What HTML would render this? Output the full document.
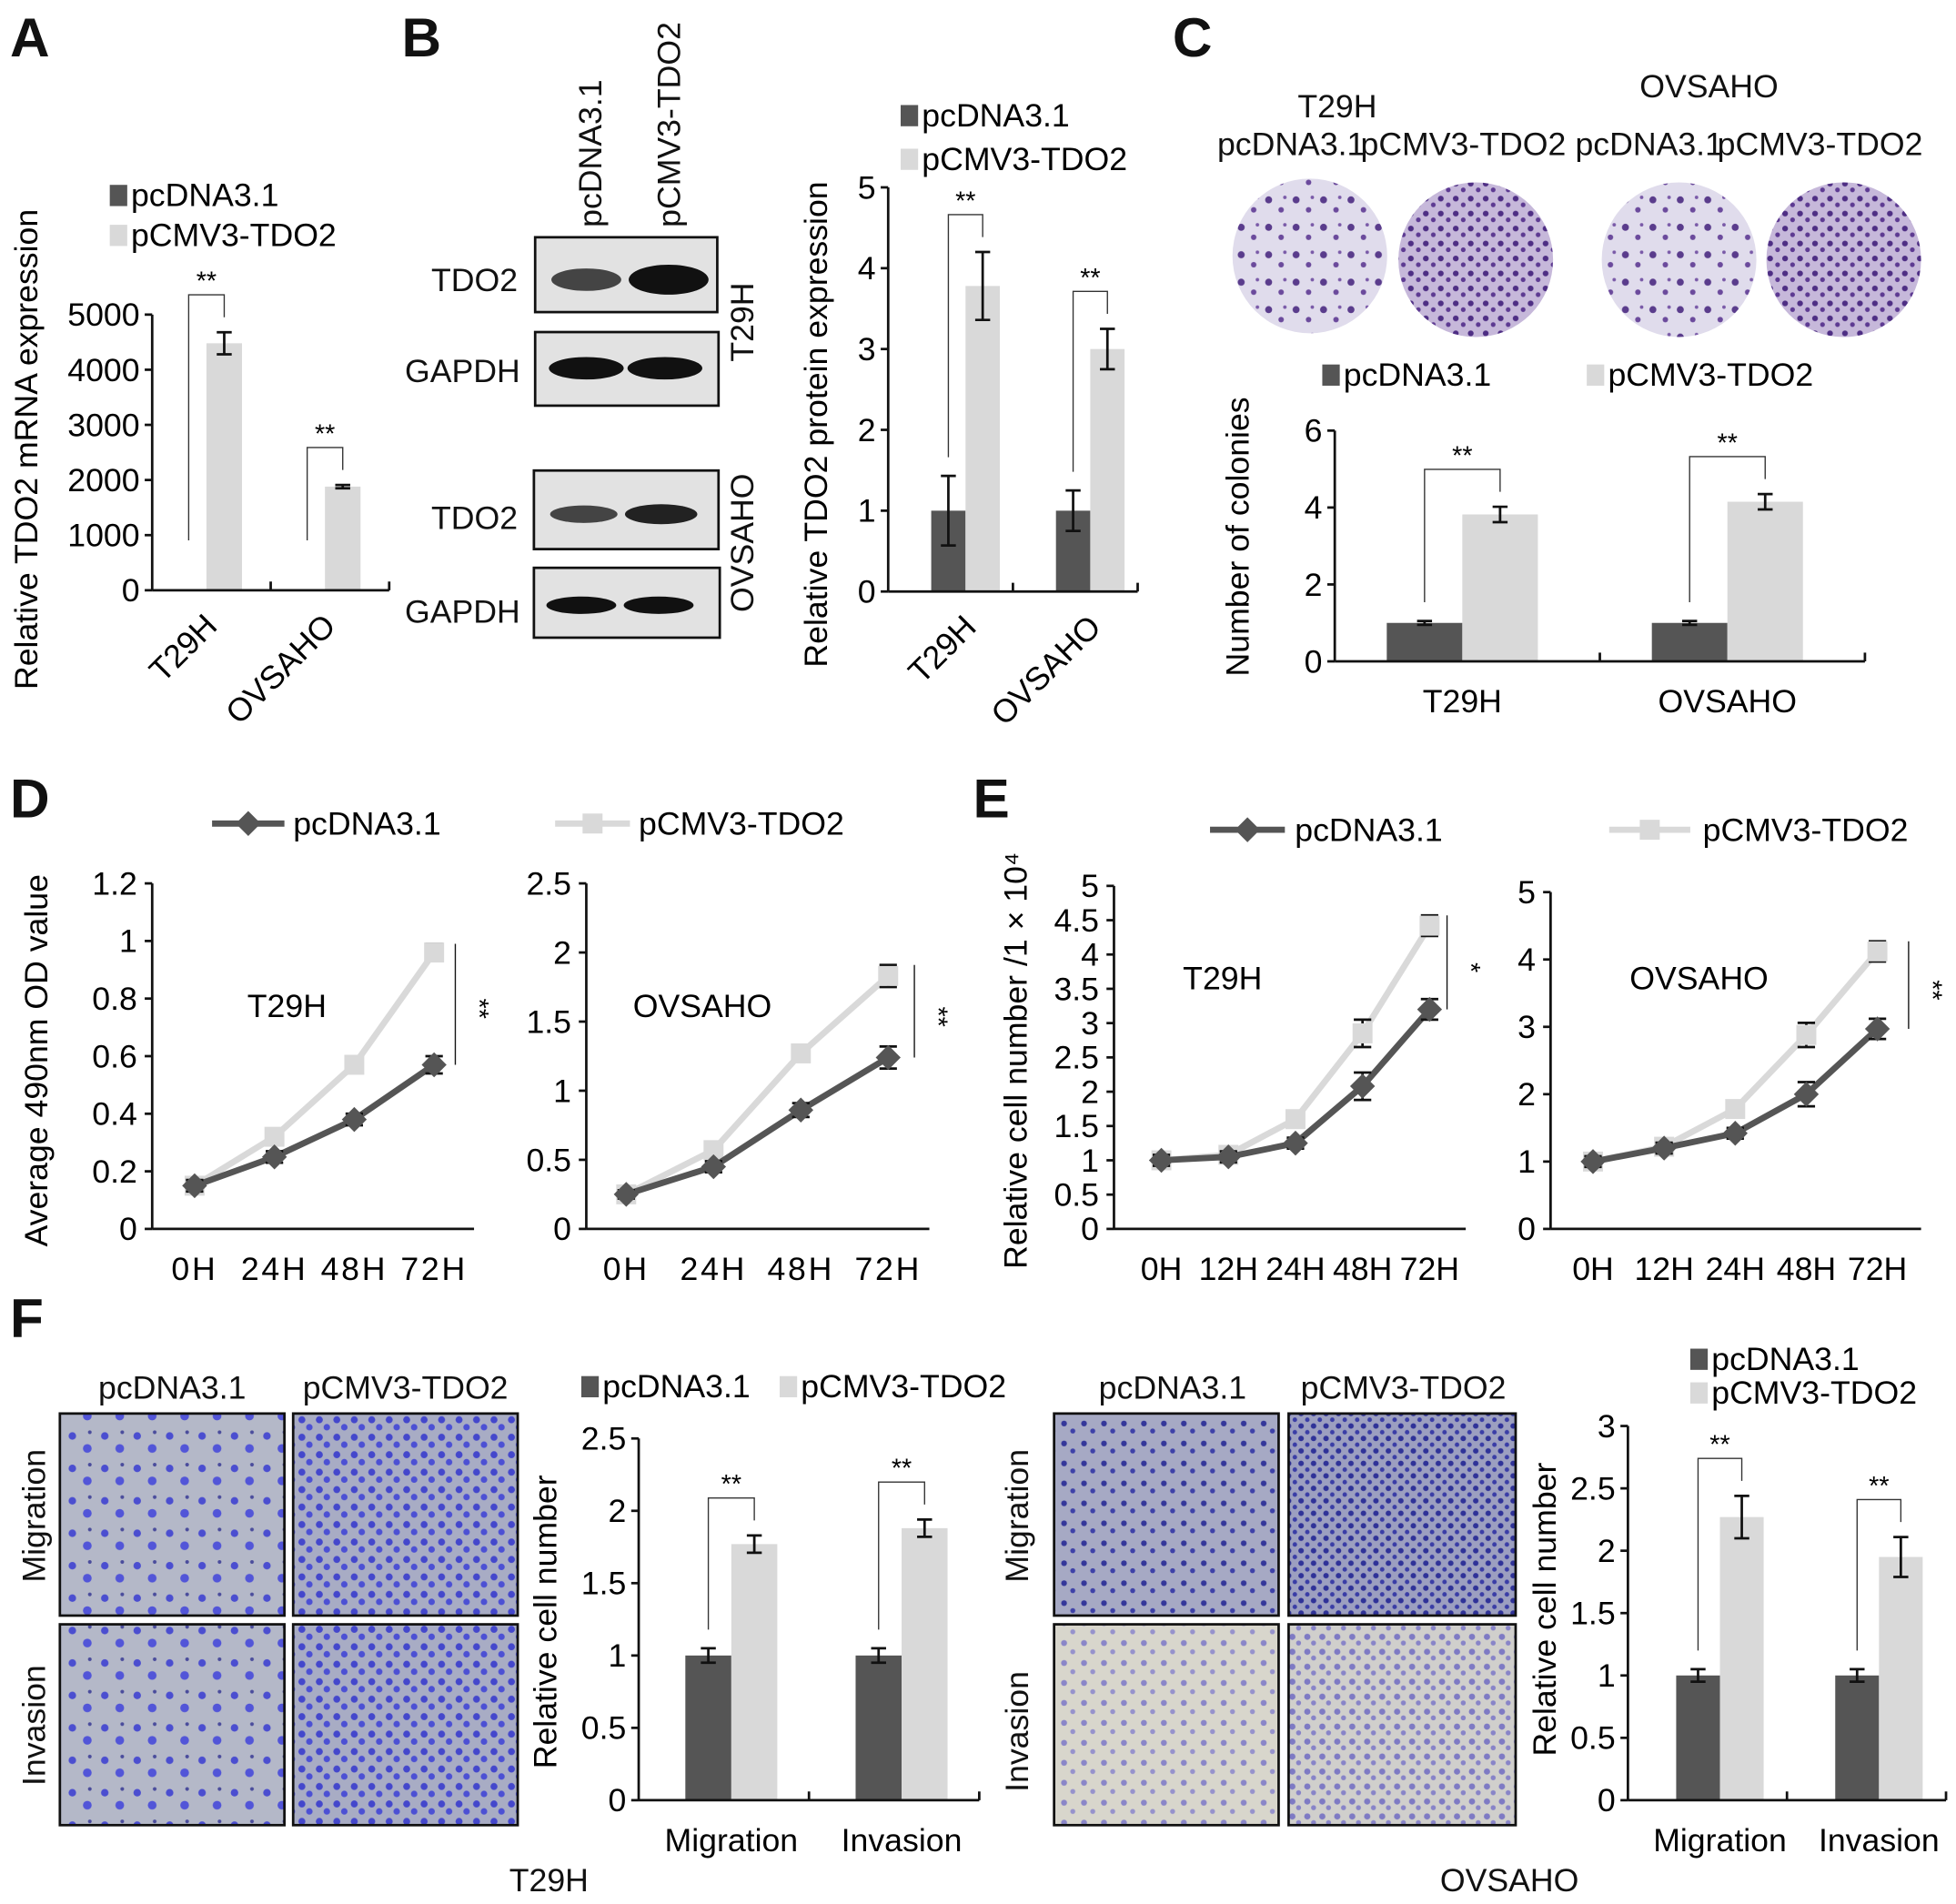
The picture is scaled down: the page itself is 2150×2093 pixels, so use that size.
<!DOCTYPE html>
<html><head><meta charset="utf-8"><style>
html,body{margin:0;padding:0;background:#fff;}
svg{display:block;font-family:"Liberation Sans",Arial,sans-serif;}
</style></head><body>
<svg id="fig" width="2150" height="2093" viewBox="0 0 1568 1526" xmlns="http://www.w3.org/2000/svg">
<defs>
<pattern id="colony" width="22" height="22" patternUnits="userSpaceOnUse">
<rect width="22" height="22" fill="#e0dcec"/><circle cx="5" cy="6" r="2.8" fill="#5a3c8c"/><circle cx="15" cy="14" r="2.2" fill="#6b4a9c"/><circle cx="18" cy="4" r="1.4" fill="#7a5aa8"/>
</pattern>
<pattern id="colony2" width="12" height="12" patternUnits="userSpaceOnUse">
<rect width="12" height="12" fill="#c6b8da"/><circle cx="3" cy="3" r="2.3" fill="#4e2e84"/><circle cx="9" cy="8" r="1.9" fill="#5d3a92"/>
</pattern>
<pattern id="trans1" width="26" height="26" patternUnits="userSpaceOnUse">
<rect width="26" height="26" fill="#b4b8c8"/><circle cx="6" cy="7" r="3" fill="#4b4ed0"/><circle cx="18" cy="17" r="3.5" fill="#5255d8"/><circle cx="20" cy="4" r="1.5" fill="#4a4c9c"/>
</pattern>
<pattern id="trans2" width="14" height="14" patternUnits="userSpaceOnUse">
<rect width="14" height="14" fill="#a8acc4"/><circle cx="4" cy="4" r="2.8" fill="#4447cc"/><circle cx="10" cy="10" r="2.6" fill="#4c50d4"/>
</pattern>
<pattern id="trans3" width="16" height="16" patternUnits="userSpaceOnUse">
<rect width="16" height="16" fill="#a6a9c4"/><circle cx="5" cy="5" r="2.3" fill="#34379a"/><circle cx="12" cy="11" r="2" fill="#3e41a8"/>
</pattern>
<pattern id="trans4" width="10" height="10" patternUnits="userSpaceOnUse">
<rect width="10" height="10" fill="#9c9fc0"/><circle cx="3" cy="3" r="2.2" fill="#2f3298"/><circle cx="8" cy="8" r="1.8" fill="#3a3da6"/>
</pattern>
<pattern id="trans5" width="16" height="16" patternUnits="userSpaceOnUse">
<rect width="16" height="16" fill="#d8d6cc"/><circle cx="5" cy="5" r="2.4" fill="#8a86c8"/><circle cx="12" cy="12" r="2" fill="#9692cc"/>
</pattern>
<pattern id="trans6" width="12" height="12" patternUnits="userSpaceOnUse">
<rect width="12" height="12" fill="#d0cfcc"/><circle cx="4" cy="4" r="2.5" fill="#7e7ac4"/><circle cx="9" cy="9" r="2" fill="#8884c8"/>
</pattern>
</defs>
<g id="static" font-size="26" fill="#111">
<text x="8" y="45" font-size="44" font-weight="bold">A</text>
<text x="322" y="45" font-size="44" font-weight="bold">B</text>
<text x="940" y="45" font-size="44" font-weight="bold">C</text>
<text x="8" y="655" font-size="44" font-weight="bold">D</text>
<text x="780" y="655" font-size="44" font-weight="bold">E</text>
<text x="8" y="1072" font-size="44" font-weight="bold">F</text>

<g>
<text x="482" y="182" transform="rotate(-90 482 182)">pcDNA3.1</text>
<text x="545" y="182" transform="rotate(-90 545 182)">pCMV3-TDO2</text>
<rect x="429" y="190" width="146" height="60" fill="#e2e2e2" stroke="#111" stroke-width="2"/>
<ellipse cx="470" cy="224" rx="28" ry="9" fill="#444"/><ellipse cx="536" cy="224" rx="32" ry="12" fill="#111"/>
<rect x="429" y="266" width="147" height="59" fill="#e2e2e2" stroke="#111" stroke-width="2"/>
<ellipse cx="470" cy="295" rx="30" ry="9" fill="#111"/><ellipse cx="533" cy="295" rx="30" ry="9" fill="#111"/>
<rect x="428" y="377" width="148" height="63" fill="#e2e2e2" stroke="#111" stroke-width="2"/>
<ellipse cx="468" cy="412" rx="27" ry="7" fill="#444"/><ellipse cx="530" cy="412" rx="29" ry="8" fill="#222"/>
<rect x="428" y="455" width="149" height="56" fill="#e2e2e2" stroke="#111" stroke-width="2"/>
<ellipse cx="466" cy="485" rx="28" ry="7" fill="#111"/><ellipse cx="528" cy="485" rx="28" ry="7" fill="#111"/>
<text x="415" y="233" text-anchor="end">TDO2</text><text x="417" y="306" text-anchor="end">GAPDH</text>
<text x="415" y="424" text-anchor="end">TDO2</text><text x="417" y="499" text-anchor="end">GAPDH</text>
<text x="604" y="258" transform="rotate(-90 604 258)" text-anchor="middle">T29H</text>
<text x="604" y="435" transform="rotate(-90 604 435)" text-anchor="middle">OVSAHO</text>
</g>

<g>
<text x="1072" y="94" text-anchor="middle">T29H</text>
<text x="1370" y="78" text-anchor="middle">OVSAHO</text>
<text x="1035" y="124" text-anchor="middle">pcDNA3.1</text>
<text x="1173" y="124" text-anchor="middle">pCMV3-TDO2</text>
<text x="1322" y="124" text-anchor="middle">pcDNA3.1</text>
<text x="1459" y="124" text-anchor="middle">pCMV3-TDO2</text>
<circle cx="1050" cy="205" r="62" fill="url(#colony)"/>
<circle cx="1183" cy="208" r="62" fill="url(#colony2)"/>
<circle cx="1346" cy="208" r="62" fill="url(#colony)"/>
<circle cx="1478" cy="208" r="62" fill="url(#colony2)"/>
</g>

<g>
<text x="138" y="1121" text-anchor="middle">pcDNA3.1</text><text x="325" y="1121" text-anchor="middle">pCMV3-TDO2</text>
<rect x="48" y="1133" width="180" height="162" fill="url(#trans1)" stroke="#111" stroke-width="2"/>
<rect x="235" y="1133" width="180" height="162" fill="url(#trans2)" stroke="#111" stroke-width="2"/>
<rect x="48" y="1302" width="180" height="161" fill="url(#trans1)" stroke="#111" stroke-width="2"/>
<rect x="235" y="1302" width="180" height="161" fill="url(#trans2)" stroke="#111" stroke-width="2"/>
<text x="36" y="1215" transform="rotate(-90 36 1215)" text-anchor="middle">Migration</text>
<text x="36" y="1383" transform="rotate(-90 36 1383)" text-anchor="middle">Invasion</text>
<text x="440" y="1516" text-anchor="middle">T29H</text>
</g>
<g>
<text x="940" y="1121" text-anchor="middle">pcDNA3.1</text><text x="1125" y="1121" text-anchor="middle">pCMV3-TDO2</text>
<rect x="845" y="1133" width="180" height="162" fill="url(#trans3)" stroke="#111" stroke-width="2"/>
<rect x="1033" y="1133" width="182" height="162" fill="url(#trans4)" stroke="#111" stroke-width="2"/>
<rect x="845" y="1302" width="180" height="161" fill="url(#trans5)" stroke="#111" stroke-width="2"/>
<rect x="1033" y="1302" width="182" height="161" fill="url(#trans6)" stroke="#111" stroke-width="2"/>
<text x="824" y="1215" transform="rotate(-90 824 1215)" text-anchor="middle">Migration</text>
<text x="824" y="1388" transform="rotate(-90 824 1388)" text-anchor="middle">Invasion</text>
<text x="1210" y="1516" text-anchor="middle">OVSAHO</text>
</g>
</g>
<g id="charts"></g>
</svg>
<script>
var aCats = ["T29H", "OVSAHO"];
var aDark = [1, 1];
var aLight = [4480, 1880];
var aDarkErr = [0, 0];
var aLightErr = [200, 30];
var aTicks = [0, 1000, 2000, 3000, 4000, 5000];

var bCats = ["T29H", "OVSAHO"];
var bDark = [1, 1];
var bLight = [3.78, 3.0];
var bDarkErr = [0.43, 0.25];
var bLightErr = [0.42, 0.25];
var bTicks = [0, 1, 2, 3, 4, 5];

var cCats = ["T29H", "OVSAHO"];
var cDark = [1, 1];
var cLight = [3.82, 4.15];
var cDarkErr = [0.05, 0.05];
var cLightErr = [0.2, 0.2];
var cTicks = [0, 2, 4, 6];

var dTimes = ["0H", "24H", "48H", "72H"];
var dLeftDark = [0.15, 0.25, 0.38, 0.57];
var dLeftLight = [0.15, 0.32, 0.57, 0.96];
var dLeftErr = [0.02, 0.02, 0.02, 0.03];
var dLeftTicks = [0, 0.2, 0.4, 0.6, 0.8, 1, 1.2];
var dRightDark = [0.25, 0.45, 0.86, 1.24];
var dRightLight = [0.25, 0.57, 1.27, 1.83];
var dRightErr = [0.03, 0.04, 0.05, 0.08];
var dRightTicks = [0, 0.5, 1, 1.5, 2, 2.5];

var eTimes = ["0H", "12H", "24H", "48H", "72H"];
var eLeftDark = [1, 1.05, 1.25, 2.08, 3.2];
var eLeftLight = [1, 1.08, 1.6, 2.85, 4.42];
var eLeftErr = [0.08, 0.08, 0.08, 0.2, 0.15];
var eLeftTicks = [0, 0.5, 1, 1.5, 2, 2.5, 3, 3.5, 4, 4.5, 5];
var eRightDark = [1, 1.2, 1.42, 2.0, 2.97];
var eRightLight = [1, 1.22, 1.78, 2.88, 4.12];
var eRightErr = [0.08, 0.08, 0.08, 0.18, 0.15];
var eRightTicks = [0, 1, 2, 3, 4, 5];

var fCats = ["Migration", "Invasion"];
var fLeftDark = [1, 1];
var fLeftLight = [1.77, 1.88];
var fLeftDarkErr = [0.05, 0.05];
var fLeftLightErr = [0.06, 0.06];
var fLeftTicks = [0, 0.5, 1, 1.5, 2, 2.5];
var fRightDark = [1, 1];
var fRightLight = [2.27, 1.95];
var fRightDarkErr = [0.05, 0.05];
var fRightLightErr = [0.17, 0.16];
var fRightTicks = [0, 0.5, 1, 1.5, 2, 2.5, 3];

var DARK = "#555555", LIGHT = "#d9d9d9";
var FS = 26;
var NS = "http://www.w3.org/2000/svg";
var root = document.getElementById("charts");
function el(tag, attrs, parent, txt) {
  var e = document.createElementNS(NS, tag);
  for (var k in attrs) e.setAttribute(k, attrs[k]);
  if (txt !== undefined) e.textContent = txt;
  (parent || root).appendChild(e);
  return e;
}
function line(g, x1, y1, x2, y2, w, c) {
  return el("line", {x1: x1, y1: y1, x2: x2, y2: y2, stroke: c || "#111", "stroke-width": w || 2}, g);
}
function errbar(g, x, yv, ye, cap) {
  line(g, x, yv, x, ye, 2); line(g, x - cap, ye, x + cap, ye, 2);
}

function barChart(o) {
  var g = el("g", {});
  
  
  var ys = function (v) { return o.y0 - (v - o.min) / (o.max - o.min) * (o.y0 - o.yTop); };
  var band = (o.x1 - o.x0) / o.cats.length;
  var bw = band * o.bwf;
  o.cats.forEach(function (c, i) {
    var cx = o.x0 + band * (i + 0.5) + (o.shift || 0);
    var rd = el("rect", {x: cx - bw, y: ys(o.dark[i]), width: bw, height: o.y0 - ys(o.dark[i]), fill: DARK}, g);
    
    
    var rl = el("rect", {x: cx, y: ys(o.light[i]), width: bw, height: o.y0 - ys(o.light[i]), fill: LIGHT}, g);
    
    
    if (o.darkErr[i] > 0) {
      line(g, cx - bw / 2 - 6, ys(o.dark[i] + o.darkErr[i]), cx - bw / 2 + 6, ys(o.dark[i] + o.darkErr[i]), 2);
      line(g, cx - bw / 2, ys(o.dark[i] + o.darkErr[i]), cx - bw / 2, ys(o.dark[i] - o.darkErr[i]), 2);
      line(g, cx - bw / 2 - 6, ys(o.dark[i] - o.darkErr[i]), cx - bw / 2 + 6, ys(o.dark[i] - o.darkErr[i]), 2);
    }
    line(g, cx + bw / 2 - 6, ys(o.light[i] + o.lightErr[i]), cx + bw / 2 + 6, ys(o.light[i] + o.lightErr[i]), 2);
    line(g, cx + bw / 2, ys(o.light[i] + o.lightErr[i]), cx + bw / 2, ys(o.light[i] - o.lightErr[i]), 2);
    line(g, cx + bw / 2 - 6, ys(o.light[i] - o.lightErr[i]), cx + bw / 2 + 6, ys(o.light[i] - o.lightErr[i]), 2);
    var top = ys(o.light[i] + o.lightErr[i]) - 30;
    var lb = Math.min(ys(o.dark[i] + o.darkErr[i]) - 15, o.y0 - 40);
    el("path", {d: "M" + (cx - bw / 2) + " " + lb + "V" + top + "H" + (cx + bw / 2) + "V" + (top + 18), fill: "none", stroke: "#333", "stroke-width": 1}, g);
    var st = el("text", {x: cx, y: top - 4, "text-anchor": "middle", "font-size": 21}, g, "**");
    
    
    var lab;
    if (o.rot) {
      lab = el("text", {x: cx + 10, y: o.y0 + 30, "text-anchor": "end", "font-size": FS, transform: "rotate(-45 " + (cx + 10) + " " + (o.y0 + 30) + ")"}, g, c);
    } else {
      lab = el("text", {x: cx, y: o.y0 + 41, "text-anchor": "middle", "font-size": FS}, g, c);
    }
    
    
    if (i > 0) line(g, o.x0 + band * i, o.y0, o.x0 + band * i, o.y0 - 7, 2);
  });
  line(g, o.x0, o.y0, o.x1, o.y0, 2);
  line(g, o.x1, o.y0, o.x1, o.y0 - 7, 2);
  line(g, o.x0, o.yTop, o.x0, o.y0, 2);
  o.ticks.forEach(function (t) {
    line(g, o.x0 - 6, ys(t), o.x0, ys(t), 2);
    var tt = el("text", {x: o.x0 - 10, y: ys(t) + 9, "text-anchor": "end", "font-size": FS}, g, String(t));
    
    
  });
  var yl = el("text", {x: o.ylx, y: o.yly, "text-anchor": "middle", "font-size": FS, transform: "rotate(-90 " + o.ylx + " " + o.yly + ")"}, g, o.ylabel);
  
  
  o.legend.forEach(function (L, j) {
    var lr = el("rect", {x: L[0], y: L[1] - 17, width: 14, height: 17, fill: j ? LIGHT : DARK}, g);
    
    
    var lt = el("text", {x: L[0] + 17, y: L[1], "font-size": FS}, g, j ? "pCMV3-TDO2" : "pcDNA3.1");
    
    
  });
}

function lineChart(o) {
  var g = el("g", {});
  
  
  var ys = function (v) { return o.y0 - v / o.max * (o.y0 - o.yTop); };
  var n = o.times.length;
  var xs = function (i) { return o.px0 + i * (o.px1 - o.px0) / (n - 1); };
  line(g, o.x0, o.yTop, o.x0, o.y0, 2);
  line(g, o.x0, o.y0, o.x1, o.y0, 2);
  o.ticks.forEach(function (t) {
    line(g, o.x0 - 6, ys(t), o.x0, ys(t), 2);
    var tt = el("text", {x: o.x0 - 12, y: ys(t) + 9, "text-anchor": "end", "font-size": FS}, g, String(t));
    
    
  });
  o.times.forEach(function (t, i) {
    var tl = el("text", {x: xs(i), y: o.y0 + 41, "text-anchor": "middle", "font-size": FS, "letter-spacing": o.ls || 0}, g, t);
    
    
  });
  [[o.light, LIGHT, "sq", o.err], [o.dark, DARK, "dia", o.err]].forEach(function (s, k) {
    var pts = s[0].map(function (v, i) { return xs(i) + "," + ys(v); }).join(" ");
    var pl = el("polyline", {points: pts, fill: "none", stroke: s[1], "stroke-width": 5}, g);
    
    
    s[0].forEach(function (v, i) {
      var x = xs(i), y = ys(v);
      errbar(g, x, y, ys(v + s[3][i]), 7); errbar(g, x, y, ys(v - s[3][i]), 7);
      var m;
      if (s[2] === "sq") m = el("rect", {x: x - 8, y: y - 8, width: 16, height: 16, fill: s[1]}, g);
      else m = el("path", {d: "M" + x + " " + (y - 10) + "L" + (x + 10) + " " + y + "L" + x + " " + (y + 10) + "L" + (x - 10) + " " + y + "Z", fill: s[1]}, g);
      
      
    });
  });
  var last = n - 1;
  var sx = xs(last) + o.sigdx;
  line(g, sx, ys(o.dark[last]), sx, ys(o.light[last] + o.err[last]), 1);
  var my = (ys(o.dark[last]) + ys(o.light[last])) / 2;
  var st = el("text", {x: sx + 12, y: my, "font-size": 21, transform: "rotate(90 " + (sx + 12) + " " + my + ")", "text-anchor": "middle"}, g, o.sig);
  
  
  var cl = el("text", {x: o.labx, y: o.laby, "text-anchor": "middle", "font-size": FS}, g, o.label);
  
  
}

function lineLegend(x1, x2, y, tx1, x3, x4, tx2, name) {
  var g = el("g", {});
  
  
  line(g, x1, y, x2, y, 5, DARK);
  var m = (x1 + x2) / 2;
  el("path", {d: "M" + m + " " + (y - 10) + "L" + (m + 10) + " " + y + "L" + m + " " + (y + 10) + "L" + (m - 10) + " " + y + "Z", fill: DARK}, g);
  el("text", {x: tx1, y: y + 9, "font-size": FS}, g, "pcDNA3.1");
  line(g, x3, y, x4, y, 5, LIGHT);
  var m2 = (x3 + x4) / 2;
  el("rect", {x: m2 - 8, y: y - 8, width: 16, height: 16, fill: LIGHT}, g);
  el("text", {x: tx2, y: y + 9, "font-size": FS}, g, "pCMV3-TDO2");
}

barChart({name: "chart-a-mrna", cats: aCats, dark: aDark, light: aLight, darkErr: aDarkErr, lightErr: aLightErr, ticks: aTicks, min: 0, max: 5000, x0: 122, x1: 312, y0: 473, yTop: 252, bwf: 0.3, shift: -4, rot: true, ylabel: "Relative TDO2 mRNA expression", ylx: 30, yly: 360, legend: [[88, 165], [88, 197]]});
barChart({name: "chart-b-protein", cats: bCats, dark: bDark, light: bLight, darkErr: bDarkErr, lightErr: bLightErr, ticks: bTicks, min: 0, max: 5, x0: 712, x1: 912, y0: 474, yTop: 150, bwf: 0.275, shift: 12, rot: true, ylabel: "Relative TDO2 protein expression", ylx: 663, yly: 340, legend: [[722, 101], [722, 136]]});
barChart({name: "chart-c-colonies", cats: cCats, dark: cDark, light: cLight, darkErr: cDarkErr, lightErr: cLightErr, ticks: cTicks, min: 0, max: 6, x0: 1070, x1: 1495, y0: 530, yTop: 345, bwf: 0.285, shift: -4, rot: false, ylabel: "Number of colonies", ylx: 1001, yly: 430, legend: [[1060, 309], [1272, 309]]});
barChart({name: "chart-f-t29h", cats: fCats, dark: fLeftDark, light: fLeftLight, darkErr: fLeftDarkErr, lightErr: fLeftLightErr, ticks: fLeftTicks, min: 0, max: 2.5, x0: 512, x1: 785, y0: 1443, yTop: 1153, bwf: 0.27, shift: 6, rot: false, ylabel: "Relative cell number", ylx: 446, yly: 1300, legend: [[466, 1120], [625, 1120]]});
barChart({name: "chart-f-ovsaho", cats: fCats, dark: fRightDark, light: fRightLight, darkErr: fRightDarkErr, lightErr: fRightLightErr, ticks: fRightTicks, min: 0, max: 3, x0: 1305, x1: 1560, y0: 1443, yTop: 1143, bwf: 0.275, shift: 10, rot: false, ylabel: "Relative cell number", ylx: 1247, yly: 1290, legend: [[1355, 1098], [1355, 1125]]});

lineLegend(170, 228, 660, 235, 445, 505, 512, "legend-d");
lineLegend(970, 1030, 665, 1038, 1290, 1355, 1365, "legend-e");
lineChart({name: "chart-d-t29h", times: dTimes, dark: dLeftDark, light: dLeftLight, err: dLeftErr, ticks: dLeftTicks, max: 1.2, x0: 122, x1: 380, y0: 985, yTop: 708, px0: 156, px1: 348, sigdx: 17, sig: "**", label: "T29H", labx: 230, laby: 815, ls: 2});
lineChart({name: "chart-d-ovsaho", times: dTimes, dark: dRightDark, light: dRightLight, err: dRightErr, ticks: dRightTicks, max: 2.5, x0: 470, x1: 745, y0: 985, yTop: 708, px0: 502, px1: 712, sigdx: 21, sig: "**", label: "OVSAHO", labx: 563, laby: 815, ls: 2});
lineChart({name: "chart-e-t29h", times: eTimes, dark: eLeftDark, light: eLeftLight, err: eLeftErr, ticks: eLeftTicks, max: 5, x0: 893, x1: 1175, y0: 985, yTop: 710, px0: 931, px1: 1146, sigdx: 14, sig: "*", label: "T29H", labx: 980, laby: 793});
lineChart({name: "chart-e-ovsaho", times: eTimes, dark: eRightDark, light: eRightLight, err: eRightErr, ticks: eRightTicks, max: 5, x0: 1243, x1: 1540, y0: 985, yTop: 715, px0: 1277, px1: 1505, sigdx: 25, sig: "**", label: "OVSAHO", labx: 1362, laby: 793});

var yd = el("text", {x: 38, y: 850, "text-anchor": "middle", "font-size": FS, transform: "rotate(-90 38 850)"}, root, "Average 490nm OD value");


var ye = el("text", {x: 823, y: 850, "text-anchor": "middle", "font-size": FS, transform: "rotate(-90 823 850)"}, root, "Relative cell number /1 × 10⁴");


</script>
</body></html>
